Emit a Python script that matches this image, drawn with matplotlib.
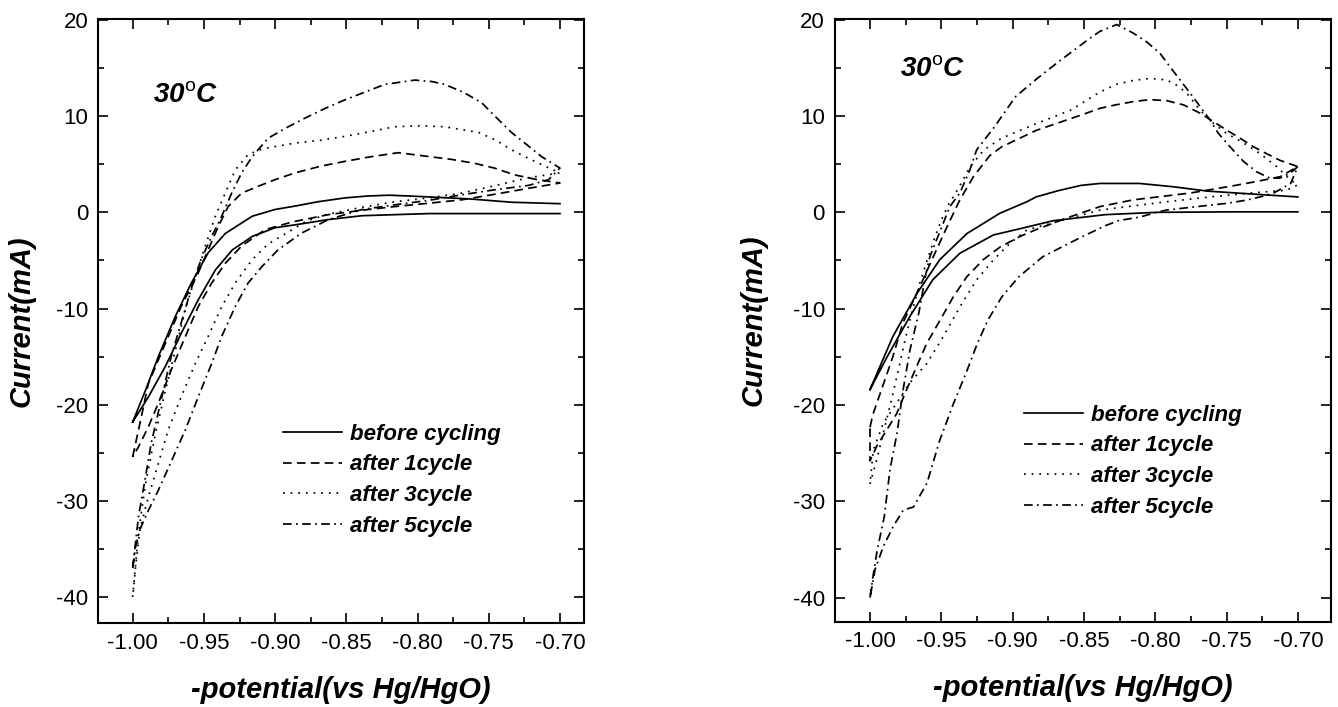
import numpy as np
import matplotlib
matplotlib.use("Agg")
import matplotlib.pyplot as plt
from matplotlib.ticker import MultipleLocator

plt.rcParams['font.family'] = ['Liberation Sans', 'DejaVu Sans']
plt.rcParams['mathtext.fontset'] = 'custom'
plt.rcParams['mathtext.rm'] = 'Liberation Sans'
plt.rcParams['mathtext.it'] = 'Liberation Sans:italic'
plt.rcParams['axes.unicode_minus'] = False

nan = np.nan

labels = ['before cycling', 'after 1cycle', 'after 3cycle', 'after 5cycle']
styles = ['-', (0, (5, 3)), (0, (1, 3.4)), (0, (5, 2.5, 1, 2.5))]

# ---- left panel: each loop = forward branch (-1.00 -> -0.70) then reverse branch
L_before_x = [-1.00, -0.991, -0.982, -0.970, -0.959, -0.947, -0.935, -0.916, -0.900, -0.886, -0.870, -0.851,
              -0.835, -0.820, -0.806, -0.792, -0.764, -0.734, -0.70, nan,
              -0.70, -0.75, -0.792, -0.839, -0.863, -0.886, -0.900, -0.916, -0.930, -0.942, -0.954, -0.966,
              -0.977, -0.989, -1.00]
L_before_y = [-21.8, -18.5, -15.0, -10.8, -7.4, -4.2, -2.2, -0.4, 0.3, 0.65, 1.1, 1.5,
              1.7, 1.78, 1.7, 1.6, 1.4, 1.05, 0.9, nan,
              -0.13, -0.13, -0.13, -0.35, -0.76, -1.3, -1.6, -2.5, -3.9, -6.0, -9.1, -12.6,
              -16.0, -19.2, -21.8]

L_cyc1_x = [-1.00, -0.995, -0.989, -0.977, -0.966, -0.954, -0.947, -0.940, -0.933, -0.9235, -0.912, -0.900,
            -0.886, -0.868, -0.851, -0.832, -0.8135, -0.792, -0.776, -0.760, -0.746, -0.732, -0.716, -0.70,
            -0.722, -0.745, -0.769, -0.792, -0.816, -0.840, -0.863, -0.888, -0.907, -0.9235, -0.935, -0.9445,
            -0.954, -0.963, -0.973, -0.982, -0.989, -0.996, -1.00]
L_cyc1_y = [-25.4, -22.0, -17.8, -13.6, -9.8, -6.3, -3.9, -1.5, 0.6, 2.0, 2.7, 3.4,
            4.1, 4.8, 5.3, 5.8, 6.2, 5.8, 5.5, 5.1, 4.6, 3.9, 3.4, 3.05,
            2.5, 1.9, 1.3, 0.95, 0.6, 0.2, -0.25, -1.0, -1.8, -3.5, -5.3, -7.35,
            -9.8, -12.9, -16.4, -19.85, -22.3, -24.4, -25.4]

L_cyc3_x = [-1.00, -0.996, -0.991, -0.984, -0.977, -0.970, -0.963, -0.956, -0.949, -0.942, -0.935, -0.928,
            -0.919, -0.909, -0.886, -0.868, -0.851, -0.833, -0.816, -0.798, -0.781, -0.757, -0.745, -0.734,
            -0.722, -0.7105, -0.70,
            -0.722, -0.745, -0.769, -0.792, -0.816, -0.840, -0.863, -0.878, -0.888, -0.905, -0.916, -0.928,
            -0.9375, -0.947, -0.956, -0.966, -0.975, -0.982, -0.989, -0.995, -0.998, -1.00]
L_cyc3_y = [-40.0, -33.4, -28.2, -23.0, -18.5, -14.3, -10.1, -6.7, -3.5, -0.4, 2.0, 4.4,
            6.0, 6.6, 7.2, 7.5, 7.9, 8.4, 8.9, 9.0, 8.9, 8.3, 7.5, 6.5,
            5.6, 4.8, 4.1,
            3.6, 2.8, 2.0, 1.5, 1.1, 0.5, -0.2, -0.9, -1.8, -3.3, -4.9, -7.35,
            -9.8, -12.9, -15.7, -19.2, -22.6, -26.1, -29.6, -33.0, -36.9, -40.0]

L_cyc5_x = [-1.00, -0.996, -0.991, -0.987, -0.980, -0.973, -0.966, -0.959, -0.952, -0.9445, -0.9375, -0.9305,
            -0.9235, -0.916, -0.905, -0.892, -0.879, -0.865, -0.851, -0.837, -0.823, -0.802, -0.790, -0.781,
            -0.768, -0.755, -0.745, -0.734, -0.723, -0.713, -0.70,
            -0.708, -0.722, -0.7456, -0.770, -0.792, -0.815, -0.839, -0.8626, -0.8813, -0.898, -0.909, -0.919,
            -0.928, -0.9375, -0.9445, -0.954, -0.963, -0.9726, -0.982, -0.989, -0.995, -0.998, -1.00]
L_cyc5_y = [-37.0, -31.7, -27.5, -24.0, -19.5, -15.0, -11.5, -8.0, -4.9, -2.5, -0.4, 2.0,
            4.1, 5.8, 7.7, 8.8, 9.8, 10.8, 11.7, 12.5, 13.3, 13.75, 13.6, 13.3,
            12.5, 11.4, 9.9, 8.3, 7.0, 5.8, 4.6,
            3.4, 2.8, 2.35, 1.8, 1.25, 0.8, 0.3, -0.76, -2.15, -3.9, -5.6, -7.35,
            -9.8, -12.9, -15.7, -19.2, -22.6, -25.8, -28.9, -31.0, -33.0, -34.8, -37.0]

# ---- right panel
R_before_x = [-1.00, -0.984, -0.967, -0.951, -0.932, -0.909, -0.890, -0.8836, -0.868, -0.852, -0.8387, -0.811,
              -0.787, -0.763, -0.7266, -0.70, nan,
              -0.70, -0.747, -0.799, -0.835, -0.8715, -0.892, -0.9135, -0.937, -0.956, -0.972, -0.988, -1.00]
R_before_y = [-18.4, -12.9, -8.4, -4.9, -2.2, -0.1, 1.1, 1.6, 2.25, 2.8, 3.0, 3.0,
              2.65, 2.2, 1.85, 1.6, nan,
              0.05, 0.05, 0.0, -0.24, -0.87, -1.6, -2.35, -4.25, -7.0, -10.8, -15.0, -18.4]

R_cyc1_x = [-1.00, -0.998, -0.984, -0.977, -0.965, -0.9556, -0.946, -0.937, -0.9275, -0.916, -0.9077, -0.8836,
            -0.852, -0.8387, -0.828, -0.8153, -0.804, -0.792, -0.780, -0.7686, -0.759, -0.750, -0.7405, -0.731,
            -0.722, -0.7125, -0.70,
            -0.7125, -0.729, -0.7475, -0.7756, -0.8153, -0.8387, -0.8594, -0.8836, -0.8948, -0.9088, -0.9205,
            -0.9322, -0.9415, -0.9509, -0.9602, -0.9673, -0.9743, -0.9813, -0.9883, -0.995, -1.00, -1.00]
R_cyc1_y = [-22.3, -21.0, -15.0, -11.5, -7.7, -4.6, -1.5, 1.3, 3.7, 5.9, 6.8, 8.5,
            10.1, 10.8, 11.15, 11.5, 11.7, 11.6, 11.15, 10.3, 9.4, 8.55, 7.7, 6.8,
            6.1, 5.4, 4.75,
            3.7, 3.2, 2.7, 2.0, 1.3, 0.6, -0.45, -1.8, -2.5, -3.6, -4.9,
            -6.7, -8.75, -11.2, -13.6, -16.0, -18.4, -20.9, -22.6, -24.2, -25.8, -22.3]

R_cyc3_x = [-1.00, -0.995, -0.99, -0.985, -0.98, -0.975, -0.97, -0.965, -0.96, -0.955, -0.95, -0.945,
            -0.94, -0.935, -0.93, -0.92, -0.9077, -0.8836, -0.8594, -0.8387, -0.827, -0.8153, -0.8036, -0.792,
            -0.785, -0.778, -0.7686, -0.7592, -0.75, -0.738, -0.7265, -0.7148, -0.7055, -0.70,
            -0.7078, -0.7335, -0.7616, -0.792, -0.8387, -0.862, -0.890, -0.9018, -0.9135, -0.9252, -0.9369,
            -0.9486, -0.9602, -0.972, -0.9813, -0.9907, -0.9977, -1.00]
R_cyc3_y = [-28.2, -25.5, -22.5, -19.5, -16.3, -13.0, -10.0, -7.3, -5.0, -2.8, -0.8, 0.8,
            2.0, 3.3, 4.7, 6.5, 7.7, 9.2, 10.6, 12.5, 13.3, 13.7, 13.9, 13.75,
            13.2, 12.4, 10.6, 9.25, 8.2, 7.2, 6.1, 4.75, 3.4, 2.85,
            2.3, 2.0, 1.6, 1.1, 0.24, -0.7, -1.83, -3.2, -4.94, -7.0, -9.8,
            -12.9, -15.7, -17.7, -19.8, -21.9, -24.7, -28.2]

R_cyc5_x = [-1.00, -0.998, -0.995, -0.990, -0.986, -0.981, -0.977, -0.972, -0.9657, -0.961, -0.958, -0.944,
            -0.937, -0.930, -0.9252, -0.9126, -0.898, -0.8836, -0.869, -0.8474, -0.8387, -0.827, -0.8153, -0.806,
            -0.7966, -0.7896, -0.7826, -0.7756, -0.7686, -0.7616, -0.7557, -0.7475, -0.7382, -0.7288, -0.7195,
            -0.7125, -0.7055, -0.70,
            -0.705, -0.717, -0.7265, -0.736, -0.750, -0.771, -0.792, -0.799, -0.811, -0.8256, -0.835, -0.8522,
            -0.8788, -0.8957, -0.9077, -0.9174, -0.9247, -0.9319, -0.9416, -0.9512, -0.960, -0.9696, -0.9766,
            -0.9837, -0.9907, -0.9965, -1.00]
R_cyc5_y = [-40.0, -37.9, -35.1, -31.6, -26.7, -22.9, -18.6, -14.3, -10.4, -6.5, -4.6, 0.6,
            2.0, 4.4, 6.5, 8.9, 12.0, 13.8, 15.5, 17.9, 18.8, 19.5, 18.6, 17.7,
            16.5, 15.1, 13.75, 12.4, 11.0, 9.6, 8.2, 6.8, 5.3, 4.2, 3.55,
            3.55, 4.05, 4.75,
            3.0, 2.0, 1.6, 1.27, 0.93, 0.59, 0.24, 0.0, -0.5, -0.85, -1.39, -2.6,
            -4.6, -6.7, -8.8, -11.2, -13.6, -16.4, -19.9, -23.7, -28.1, -30.6, -30.9,
            -32.6, -34.7, -37.1, -40.0]

left_curves = [(L_before_x, L_before_y), (L_cyc1_x, L_cyc1_y), (L_cyc3_x, L_cyc3_y), (L_cyc5_x, L_cyc5_y)]
right_curves = [(R_before_x, R_before_y), (R_cyc1_x, R_cyc1_y), (R_cyc3_x, R_cyc3_y), (R_cyc5_x, R_cyc5_y)]

fig = plt.figure(figsize=(13.38, 7.07), dpi=100)
ax1 = fig.add_axes([0.0732, 0.1188, 0.3632, 0.8543])
ax2 = fig.add_axes([0.6237, 0.1207, 0.3711, 0.8525])


def setup(ax, curves, xlim, ylim, leg_anchor, temp_pos, ylab_x):
    for (x, y), ls, lab in zip(curves, styles, labels):
        ax.plot(x, y, color='black', lw=1.25, linestyle=ls, label=lab)
    ax.set_xlim(*xlim)
    ax.set_ylim(*ylim)
    ax.xaxis.set_minor_locator(MultipleLocator(0.025))
    ax.yaxis.set_major_locator(MultipleLocator(10))
    ax.yaxis.set_minor_locator(MultipleLocator(5))
    ax.set_xticks(np.arange(-1.00, -0.699, 0.05))
    ax.set_xticklabels(['-1.00', '-0.95', '-0.90', '-0.85', '-0.80', '-0.75', '-0.70'])
    ax.tick_params(which='both', direction='in', top=True, right=True, width=1.2, labelsize=16, pad=7)
    ax.tick_params(which='major', length=7)
    ax.tick_params(which='minor', length=4)
    for s in ax.spines.values():
        s.set_linewidth(1.5)
    ax.set_xlabel('-potential(vs Hg/HgO)', fontsize=21, fontweight='bold', fontstyle='italic')
    ax.set_ylabel('Current(mA)', fontsize=21, fontweight='bold', fontstyle='italic')
    ax.xaxis.set_label_coords(0.5, -0.087)
    ax.yaxis.set_label_coords(ylab_x, 0.5)
    ax.legend(loc='upper left', bbox_to_anchor=leg_anchor, frameon=False, borderpad=0,
              borderaxespad=0, handlelength=2.66, handletextpad=0.36, labelspacing=0.44,
              prop={'size': 16, 'weight': 'bold', 'style': 'italic'})
    ax.text(temp_pos[0], temp_pos[1], r'30$^{\rm o}$C', transform=ax.transAxes, fontsize=20,
            fontweight='bold', fontstyle='italic', ha='left', va='baseline')


setup(ax1, left_curves, (-1.0244, -0.6832), (-42.7, 20.1), (0.381, 0.330), (0.113, 0.862), -0.128)
setup(ax2, right_curves, (-1.0249, -0.6767), (-42.5, 20.08), (0.382, 0.360), (0.132, 0.905), -0.135)

fig.savefig('out.png', dpi=100)
